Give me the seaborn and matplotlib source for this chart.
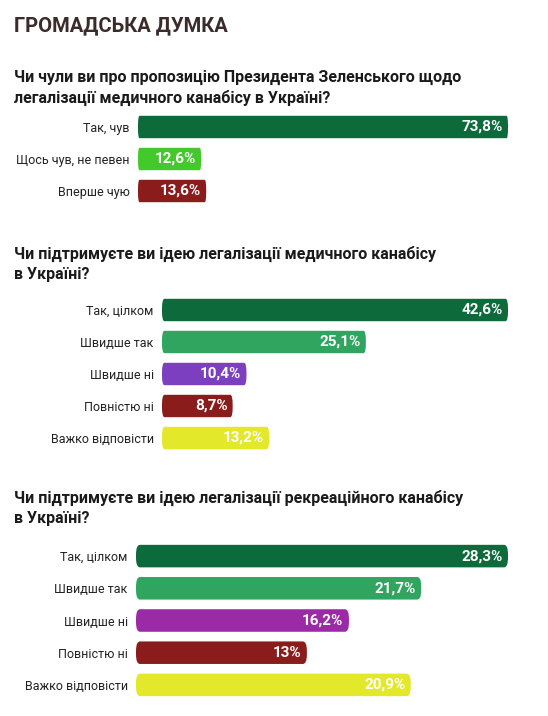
import matplotlib
matplotlib.use("Agg")
import matplotlib.pyplot as plt
import seaborn as sns
from matplotlib.patches import FancyBboxPatch

sns.set_theme(style="white")
plt.rcParams['font.family'] = ['Roboto', 'DejaVu Sans']

title = "ГРОМАДСЬКА ДУМКА"
q1 = "Чи чули ви про пропозицію Президента Зеленського щодо\nлегалізації медичного канабісу в Україні?"
cats1 = ["Так, чув", "Щось чув, не певен", "Вперше чую"]
vals1 = [73.8, 12.6, 13.6]
labs1 = ["73,8%", "12,6%", "13,6%"]
cols1 = ["#0d6b3b", "#43c92b", "#8a1c1c"]

q2 = "Чи підтримуєте ви ідею легалізації медичного канабісу\nв Україні?"
cats2 = ["Так, цілком", "Швидше так", "Швидше ні", "Повністю ні", "Важко відповісти"]
vals2 = [42.6, 25.1, 10.4, 8.7, 13.2]
labs2 = ["42,6%", "25,1%", "10,4%", "8,7%", "13,2%"]
cols2 = ["#0d6b3b", "#2fa560", "#7b3fbf", "#8a1c1c", "#e3e82a"]

q3 = "Чи підтримуєте ви ідею легалізації рекреаційного канабісу\nв Україні?"
cats3 = ["Так, цілком", "Швидше так", "Швидше ні", "Повністю ні", "Важко відповісти"]
vals3 = [28.3, 21.7, 16.2, 13.0, 20.9]
labs3 = ["28,3%", "21,7%", "16,2%", "13%", "20,9%"]
cols3 = ["#0d6b3b", "#2fa560", "#9a2aa6", "#8a1c1c", "#e3e82a"]

W, H = 548, 716
fig = plt.figure(figsize=(W/100, H/100), dpi=100)
fig.patch.set_facecolor("white")

def fx(p): return p / W
def fy(p): return 1 - p / H

fig.text(fx(14), fy(26), title, fontsize=14.5, fontweight="bold", color="#3b2b2b", va="center")
fig.text(fx(14), fy(88), q1, fontsize=11.5, fontweight="bold", color="#1a1a1a", va="center", linespacing=1.35)
fig.text(fx(14), fy(264), q2, fontsize=11.5, fontweight="bold", color="#1a1a1a", va="center", linespacing=1.35)
fig.text(fx(14), fy(508), q3, fontsize=11.5, fontweight="bold", color="#1a1a1a", va="center", linespacing=1.35)

def panel(x0, x1, ytop, ybot, cats, vals, labs, cols):
    ax = fig.add_axes([fx(x0), fy(ybot), fx(x1) - fx(x0), fy(ytop) - fy(ybot)])
    n = len(cats)
    sns.barplot(x=vals, y=cats, hue=cats, palette=cols, orient="h", ax=ax,
                width=0.7, legend=False, saturation=1)
    ax.set_xlim(0, max(vals))
    ax.set_ylim(n - 0.5, -0.5)
    # rounded bars
    for p, c in zip(list(ax.patches), cols):
        xb, yb, wb, hb = p.get_x(), p.get_y(), p.get_width(), p.get_height()
        p.set_visible(False)
        r = FancyBboxPatch((xb, yb), wb, hb, boxstyle="round,pad=0,rounding_size=0.3",
                           mutation_aspect=1/ (max(vals) / n * 1.0) if False else 1,
                           facecolor=c, edgecolor="none")
        ax.add_patch(r)
    for i, (v, l) in enumerate(zip(vals, labs)):
        ax.text(v - max(vals) * 0.015, i, l, color="white", fontsize=11,
                fontweight="bold", ha="right", va="center")
    ax.set_xticks([])
    ax.set_xlabel("")
    ax.set_ylabel("")
    ax.tick_params(axis="y", length=0, pad=6, labelsize=9, labelcolor="#222222")
    sns.despine(ax=ax, left=True, bottom=True)
    ax.set_facecolor("none")
    return ax

panel(138, 508, 111, 207, cats1, vals1, labs1, cols1)
panel(162, 508, 294, 454, cats2, vals2, labs2, cols2)
panel(136, 508, 540, 701, cats3, vals3, labs3, cols3)

fig.savefig("out.png", dpi=100, facecolor="white")
